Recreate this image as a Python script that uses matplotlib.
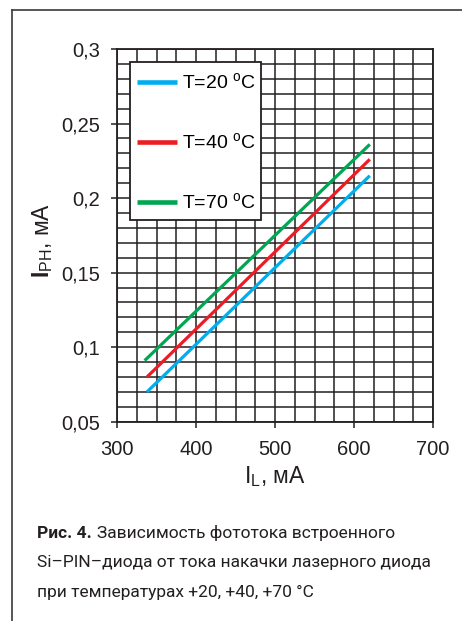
import matplotlib
matplotlib.use("Agg")
import matplotlib.pyplot as plt
from matplotlib.lines import Line2D
from matplotlib.patches import Rectangle
import numpy as np

# Data
labels = ["T=20 $^{\\rm o}$C", "T=40 $^{\\rm o}$C", "T=70 $^{\\rm o}$C"]
colors = ["#00AEEF", "#ED1C24", "#00A651"]
x_t20 = [338, 620]
y_t20 = [0.070, 0.215]
x_t40 = [338, 620]
y_t40 = [0.080, 0.226]
x_t70 = [335, 620]
y_t70 = [0.091, 0.236]

xticks = [300, 400, 500, 600, 700]
yticks = [0.05, 0.1, 0.15, 0.2, 0.25, 0.3]
ytick_labels = ["0,05", "0,1", "0,15", "0,2", "0,25", "0,3"]

plt.rcParams['font.family'] = ['Liberation Sans', 'DejaVu Sans']
plt.rcParams['mathtext.fontset'] = 'custom'
plt.rcParams['mathtext.rm'] = 'Liberation Sans'
plt.rcParams['mathtext.bf'] = 'Liberation Sans:bold'

W, H = 462, 621
fig = plt.figure(figsize=(W / 100, H / 100), dpi=100)
fig.patch.set_facecolor('white')

# outer frame (left and top edges visible)
fig.add_artist(Line2D([12 / W, 12 / W], [0, 1 - 10 / H], transform=fig.transFigure,
                      color='#3a3a3a', lw=1.2))
fig.add_artist(Line2D([12 / W, 1], [1 - 10 / H, 1 - 10 / H], transform=fig.transFigure,
                      color='#3a3a3a', lw=1.2))

ax = fig.add_axes([117 / W, 1 - 421.7 / H, 316 / W, 372.7 / H])
ax.set_xlim(300, 700)
ax.set_ylim(0.05, 0.3)

grid_c = '#231f20'
for gx in np.arange(300, 701, 25):
    ax.axvline(gx, color=grid_c, lw=1.1, zorder=1)
for gy in np.arange(0.05, 0.3001, 0.01):
    ax.axhline(gy, color=grid_c, lw=1.1, zorder=1)

series = [(x_t20, y_t20), (x_t40, y_t40), (x_t70, y_t70)]
for (xs, ys), c, lab in zip(series, colors, labels):
    ax.plot(xs, ys, color=c, lw=2.3, label=lab, zorder=3, solid_capstyle='butt')

ax.set_xticks(xticks)
ax.set_xticklabels([str(v) for v in xticks])
ax.set_yticks(yticks)
ax.set_yticklabels(ytick_labels)
ax.tick_params(axis='both', direction='out', length=4.5, width=1.1, color=grid_c,
               labelsize=14.5, labelcolor='#231f20')
ax.tick_params(axis='x', pad=9)
ax.tick_params(axis='y', pad=8)
for s in ax.spines.values():
    s.set_color(grid_c)
    s.set_linewidth(1.3)

ax.set_xlabel("I$_{\\rm L}$, мА", fontsize=16.5, color='#231f20')
ax.xaxis.set_label_coords(0.5, (421.7 - 477) / 372.7)
ax.xaxis.label.set_va('center')
fig.text(43 / W, 1 - 240 / H, "$\\mathbf{I}$$_{\\rm PH}$, мА", rotation=90,
         fontsize=16.5, ha='center', va='center', color='#231f20')

# legend box
box = Rectangle((0.040, 0.541), 0.416, 0.425, transform=ax.transAxes,
                facecolor='white', edgecolor=grid_c, lw=1.3, zorder=4)
ax.add_patch(box)
leg = ax.legend(loc='upper left', bbox_to_anchor=(0.031, 0.966), fontsize=14,
                frameon=False, labelspacing=2.02, handlelength=2.05,
                handletextpad=0.25, borderpad=0.55, borderaxespad=0)
for ln in leg.get_lines():
    ln.set_linewidth(3.3)
leg.set_zorder(5)

cap_fam = ['Liberation Sans Narrow', 'Roboto', 'DejaVu Sans']
fs_cap = 12.5
fig.text(37 / W, 1 - 533 / H, "Рис. 4.", fontsize=fs_cap, fontweight='bold',
         family=cap_fam, va='center', ha='left', color='#231f20')
fig.text(97 / W, 1 - 533 / H, "Зависимость фототока встроенного", fontsize=fs_cap,
         family=cap_fam, va='center', ha='left', color='#231f20')
fig.text(37 / W, 1 - 563 / H, "Si–PIN–диода от тока накачки лазерного диода", fontsize=fs_cap,
         family=cap_fam, va='center', ha='left', color='#231f20')
fig.text(37 / W, 1 - 592 / H, "при температурах +20, +40, +70 °C", fontsize=fs_cap,
         family=cap_fam, va='center', ha='left', color='#231f20')

fig.savefig("out.png", dpi=100, facecolor='white')
